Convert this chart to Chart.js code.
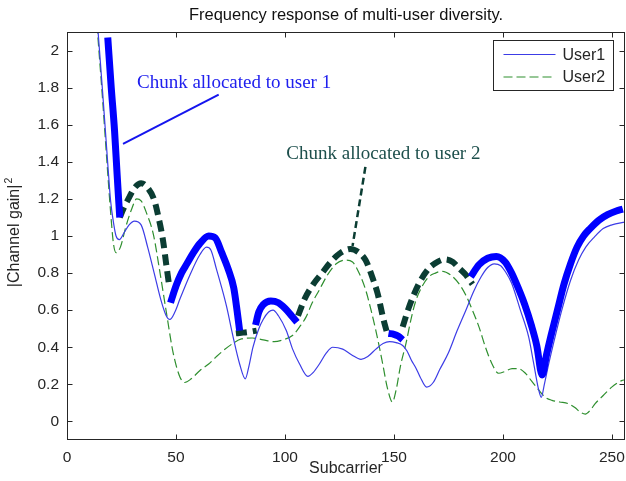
<!DOCTYPE html>
<html>
<head>
<meta charset="utf-8">
<script src="https://cdn.jsdelivr.net/npm/chart.js@4.4.1/dist/chart.umd.min.js"></script>
<style>
  html, body { margin: 0; padding: 0; background: #fff; }
</style>
</head>
<body>
<canvas id="fr" width="626" height="481"></canvas>
<script>
// ---------------------------------------------
// data
// ---------------------------------------------
const subcarrierTicks = [0, 50, 100, 150, 200, 250];
const gainTicks = [0, 0.2, 0.4, 0.6, 0.8, 1, 1.2, 1.4, 1.6, 1.8, 2];

// |H|^2 of each user over the subcarriers
const user1X = [12, 14.2, 16.5, 18.7, 20, 21.5, 22.5, 24, 26.3, 28.5, 30.9, 34, 37, 40, 43.1, 45.4, 47.2, 49.5, 51.8, 56.4,
  61, 64, 66, 68.6, 71, 73.2, 76.2, 79.2, 81.8, 83.5, 85.3, 88, 90, 92.5, 94.5, 97, 100.6, 103.5, 106.7, 110.5,
  113, 115.8, 119, 121.9, 126.5, 130.5, 134.9, 138, 141.7, 145, 148, 151, 154, 156, 158, 160, 162, 165, 168, 171,
  175, 179, 183, 186.5, 190, 193, 196, 199, 201, 204, 208, 211.8, 214, 216.4, 217.6, 219, 221, 224, 227, 231,
  234.7, 238, 242, 246, 250, 256];
const user1Y = [2.45, 2.11, 1.75, 1.39, 1.19, 1.06, 1.0, 0.98, 1.02, 1.06, 1.08, 1.06, 0.94, 0.80, 0.654, 0.573, 0.55, 0.59, 0.66, 0.79,
  0.9, 0.94, 0.925, 0.82, 0.72, 0.62, 0.456, 0.31, 0.23, 0.3, 0.4, 0.5, 0.55, 0.59, 0.6, 0.57, 0.49, 0.39, 0.31, 0.243,
  0.265, 0.31, 0.37, 0.40, 0.39, 0.36, 0.335, 0.35, 0.39, 0.42, 0.43, 0.425, 0.41, 0.38, 0.33, 0.29, 0.24, 0.185, 0.21, 0.28,
  0.37, 0.49, 0.6, 0.7, 0.78, 0.83, 0.85, 0.84, 0.81, 0.745, 0.6, 0.456, 0.32, 0.17, 0.13, 0.2, 0.31, 0.46, 0.6, 0.76,
  0.87, 0.94, 0.995, 1.04, 1.06, 1.075];

const user2X = [12, 14, 16.3, 18.5, 20, 21.3, 22.5, 24.5, 27, 29.5, 32, 34, 36.6, 39.6, 42.7, 45.7, 48.7, 51.8, 54, 57,
  61, 65, 68.6, 72, 76, 80, 85, 90, 95, 99, 103.6, 106.7, 109.7, 112.5, 115.8, 119.5, 123.5, 128, 131, 134,
  137, 139.5, 141.7, 143.5, 145, 147, 149.3, 151, 153, 155.5, 158, 160, 163, 166, 169, 172, 176, 180, 183, 186,
  189, 192, 195, 198, 201, 204.2, 207, 210.3, 213, 216.4, 219.5, 222.5, 226, 230, 233, 235.5, 237.8, 240, 242.3, 246,
  249.9, 254.5, 256];
const user2Y = [2.42, 2.1, 1.74, 1.37, 1.13, 0.96, 0.91, 0.94, 1.05, 1.14, 1.2, 1.19, 1.12, 1.01, 0.80, 0.58, 0.37, 0.24, 0.21, 0.23,
  0.275, 0.31, 0.35, 0.385, 0.42, 0.445, 0.45, 0.44, 0.43, 0.44, 0.465, 0.51, 0.564, 0.64, 0.71, 0.79, 0.85, 0.87, 0.86, 0.8,
  0.71, 0.6, 0.49, 0.39, 0.3, 0.18, 0.105, 0.17, 0.3, 0.42, 0.56, 0.65, 0.73, 0.78, 0.8, 0.81, 0.79, 0.74, 0.68, 0.6,
  0.51, 0.40, 0.31, 0.26, 0.27, 0.285, 0.285, 0.26, 0.22, 0.17, 0.13, 0.114, 0.105, 0.096, 0.075, 0.05, 0.04, 0.06, 0.096, 0.14,
  0.185, 0.22, 0.225];

// chunks handed to user 1 (null = chunk belongs to the other user)
const chunk1X = [18.7, 20.3, 21.8, 23, 24.2, 30,
  47.5, 50, 52.5, 55, 58, 61, 65, 68, 71, 74, 76.5, 78, 79.2, 83,
  86.5, 88, 90, 93.5, 97, 100, 103, 105.5, 120,
  147.5, 150, 152, 154, 170,
  185.2, 189, 193, 197, 201, 204, 207, 210, 213, 215.5, 218, 220, 222, 225, 228, 231, 234, 237, 240, 244, 248, 252, 255];
const chunk1Y = [2.07, 1.8, 1.57, 1.33, 1.1, null,
  0.64, 0.73, 0.8, 0.85, 0.91, 0.96, 1.0, 0.99, 0.91, 0.82, 0.72, 0.6, 0.49, null,
  0.52, 0.59, 0.63, 0.65, 0.64, 0.61, 0.57, 0.535, null,
  0.475, 0.47, 0.46, 0.44, null,
  0.78, 0.845, 0.88, 0.89, 0.86, 0.8, 0.72, 0.63, 0.52, 0.41, 0.25, 0.36, 0.46, 0.6, 0.74, 0.85, 0.94, 1.0, 1.04, 1.085, 1.115, 1.135, 1.145];

// chunks handed to user 2
const chunk2X = [24.2, 26, 28.6, 31, 34, 37, 40, 42, 44, 45.5, 47, 60,
  77.5, 80, 83, 87, 95,
  106, 109, 113, 117, 121, 125, 130, 134, 137, 140, 142.5, 145, 147, 150,
  154, 157, 161.5, 166, 170, 173.5, 177, 180, 183, 186];
const chunk2Y = [1.1, 1.15, 1.21, 1.26, 1.285, 1.26, 1.195, 1.1, 0.98, 0.85, 0.72, null,
  0.475, 0.478, 0.482, 0.49, null,
  0.57, 0.66, 0.74, 0.8, 0.86, 0.905, 0.93, 0.91, 0.87, 0.78, 0.69, 0.56, 0.47, null,
  0.51, 0.62, 0.744, 0.825, 0.86, 0.874, 0.86, 0.825, 0.79, 0.74];

// ---------------------------------------------
// styles
// ---------------------------------------------
const SANS = '"Liberation Sans", Arial, sans-serif';
const SERIF = '"Liberation Serif", "Times New Roman", serif';
const INK = '#262626';

const callouts = [
  { text: 'Chunk allocated to user 1', at: [32.1, 1.827], from: [69.6, 1.762], to: [25.7, 1.497],
    color: '#2020ee', line: '#1515ee', width: 2, dash: [] },
  { text: 'Chunk allocated to user 2', at: [100.6, 1.443], from: [136.9, 1.373], to: [131.0, 0.946],
    color: '#1d4f4c', line: '#0b3d33', width: 2.5, dash: [7, 4] }
];

function pts(xs, ys) {
  return xs.map((x, i) => ({ x: x, y: ys[i] }));
}

// box, inward ticks, labels, callouts, legend
const matlabFrame = {
  id: 'matlabFrame',
  afterDatasetsDraw(chart) {
    const ctx = chart.ctx;
    const ca = chart.chartArea;
    const sx = chart.scales.x, sy = chart.scales.y;
    const L = Math.round(ca.left) + 0.5, R = Math.round(ca.right) - 0.5;
    const T = Math.round(ca.top) + 0.5, B = Math.round(ca.bottom) - 0.5;
    ctx.save();

    // callouts
    callouts.forEach(c => {
      ctx.beginPath();
      ctx.strokeStyle = c.line;
      ctx.lineWidth = c.width;
      ctx.setLineDash(c.dash);
      ctx.moveTo(sx.getPixelForValue(c.from[0]), sy.getPixelForValue(c.from[1]));
      ctx.lineTo(sx.getPixelForValue(c.to[0]), sy.getPixelForValue(c.to[1]));
      ctx.stroke();
      ctx.setLineDash([]);
      ctx.fillStyle = c.color;
      ctx.font = '19px ' + SERIF;
      ctx.textAlign = 'left';
      ctx.textBaseline = 'middle';
      ctx.fillText(c.text, sx.getPixelForValue(c.at[0]), sy.getPixelForValue(c.at[1]));
    });

    // frame
    ctx.strokeStyle = INK;
    ctx.lineWidth = 1;
    ctx.strokeRect(L, T, R - L, B - T);
    ctx.beginPath();
    subcarrierTicks.forEach(v => {
      const x = Math.round(sx.getPixelForValue(v)) + 0.5;
      ctx.moveTo(x, B); ctx.lineTo(x, B - 5);
      ctx.moveTo(x, T); ctx.lineTo(x, T + 5);
    });
    gainTicks.forEach(v => {
      const y = Math.round(sy.getPixelForValue(v)) + 0.5;
      ctx.moveTo(L, y); ctx.lineTo(L + 5, y);
      ctx.moveTo(R, y); ctx.lineTo(R - 5, y);
    });
    ctx.stroke();

    // title and axis names
    ctx.fillStyle = '#111';
    ctx.font = '16.5px ' + SANS;
    ctx.textAlign = 'center';
    ctx.textBaseline = 'middle';
    ctx.fillText('Frequency response of multi-user diversity.', (ca.left + ca.right) / 2, 15);
    ctx.fillStyle = INK;
    ctx.font = '16px ' + SANS;
    ctx.fillText('Subcarrier', (ca.left + ca.right) / 2, 469);

    ctx.translate(15, (ca.top + ca.bottom) / 2 - 3);
    ctx.rotate(-Math.PI / 2);
    const main = '|Channel gain|';
    const w1 = ctx.measureText(main).width;
    ctx.font = '10.5px ' + SANS;
    const w2 = ctx.measureText('2').width;
    ctx.font = '16px ' + SANS;
    ctx.textAlign = 'left';
    ctx.fillText(main, -(w1 + w2) / 2, 0);
    ctx.font = '10.5px ' + SANS;
    ctx.fillText('2', -(w1 + w2) / 2 + w1 + 1, -6);
    ctx.setTransform(1, 0, 0, 1, 0, 0);

    // legend
    const users = chart.data.datasets.filter(d => d.label.indexOf('User') === 0);
    const bx = Math.round(ca.right - 132) + 0.5, by = Math.round(ca.top + 8) + 0.5;
    ctx.fillStyle = '#fff';
    ctx.fillRect(bx, by, 120, 50);
    ctx.strokeStyle = INK;
    ctx.lineWidth = 1;
    ctx.strokeRect(bx, by, 120, 50);
    users.forEach((d, i) => {
      const y = by + 14 + i * 22.5;
      ctx.beginPath();
      ctx.strokeStyle = d.borderColor;
      ctx.lineWidth = d.borderWidth;
      ctx.setLineDash(d.borderDash || []);
      ctx.moveTo(bx + 10, y);
      ctx.lineTo(bx + 62, y);
      ctx.stroke();
      ctx.setLineDash([]);
      ctx.fillStyle = INK;
      ctx.font = '16px ' + SANS;
      ctx.textAlign = 'left';
      ctx.textBaseline = 'middle';
      ctx.fillText(d.label, bx + 69, y + 1);
    });
    ctx.restore();
  }
};

const common = { pointRadius: 0, fill: false, cubicInterpolationMode: 'monotone', spanGaps: false };

const ctx = document.getElementById('fr').getContext('2d');
const myChart = new Chart(ctx, {
  type: 'line',
  data: {
    datasets: [
      Object.assign({ label: 'alloc1', data: pts(chunk1X, chunk1Y), borderColor: '#0000ff', borderWidth: 7 }, common),
      Object.assign({ label: 'alloc2', data: pts(chunk2X, chunk2Y), borderColor: '#0b3d33', borderWidth: 6, borderDash: [11, 6] }, common),
      Object.assign({ label: 'User1', data: pts(user1X, user1Y), borderColor: '#3c3ce6', borderWidth: 1.2 }, common),
      Object.assign({ label: 'User2', data: pts(user2X, user2Y), borderColor: '#2f8f2f', borderWidth: 1.2, borderDash: [9, 4] }, common)
    ]
  },
  options: {
    responsive: false,
    animation: false,
    events: [],
    layout: { padding: { top: 32, right: 1, left: 0, bottom: 0 } },
    plugins: { legend: { display: false }, tooltip: { enabled: false } },
    scales: {
      x: {
        type: 'linear', min: 0, max: 256,
        grid: { display: false, drawTicks: false },
        border: { display: false },
        ticks: { color: INK, font: { family: SANS, size: 15.5 }, padding: 8, maxRotation: 0, autoSkip: false,
          callback: v => String(v) },
        afterBuildTicks: s => { s.ticks = subcarrierTicks.map(v => ({ value: v })); },
        afterFit: s => { s.height = 41; s.paddingLeft = 0; s.paddingRight = 0; }
      },
      y: {
        type: 'linear', min: -0.1, max: 2.1,
        grid: { display: false, drawTicks: false },
        border: { display: false },
        ticks: { color: INK, font: { family: SANS, size: 15.5 }, padding: 8, autoSkip: false,
          callback: v => String(Math.round(v * 10) / 10) },
        afterBuildTicks: s => { s.ticks = gainTicks.map(v => ({ value: v })); },
        afterFit: s => { s.width = 67; s.paddingTop = 0; s.paddingBottom = 0; }
      }
    }
  },
  plugins: [matlabFrame]
});
</script>
</body>
</html>
